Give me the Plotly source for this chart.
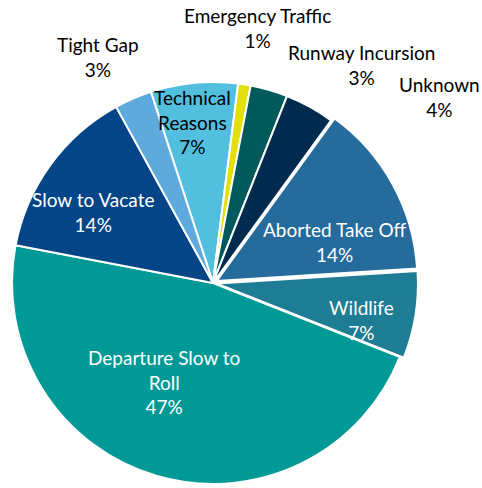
import math
import plotly.graph_objects as go

# Share of delay causes (percent), clockwise from the top
categories = ["Technical<br>Reasons", "Emergency Traffic", "Runway Incursion", "Unknown",
              "Aborted Take Off", "Wildlife", "Departure Slow to<br>Roll",
              "Slow to Vacate", "Tight Gap"]
shares = [7, 1, 3, 4, 14, 7, 47, 14, 3]

# Styling per slice
colors = ["#52BFDE", "#E3DF0B", "#00595A", "#012A4F", "#256B9C",
          "#1E7C94", "#009996", "#034586", "#5EAADD"]
text_colors = ["black", "black", "black", "black", "white",
               "white", "white", "white", "black"]
pulls = [0, 0, 0, 0, 0.02, 0.02, 0, 0, 0]
# label placement: distance from centre (in radii) and angular nudge (deg)
label_radius = [0.807, 1.287, 1.311, 1.459, 0.639, 0.763, 0.55, 0.692, 1.261]
label_nudge = [-1.7, 0.8, 18.0, 21.9, 10.2, 4.8, 10.1, -5.3, -3.7]

W, H = 482, 488
rotation = -18
dom_x = [0.0166, 0.8672]
dom_y = [0.0, 0.8402]

fig = go.Figure(go.Pie(
    labels=categories,
    values=shares,
    sort=False,
    direction="clockwise",
    rotation=rotation,
    pull=pulls,
    marker=dict(colors=colors, line=dict(color="white", width=2)),
    textinfo="none",
    hovertemplate="%{label}: %{percent:.0%}<extra></extra>",
    domain=dict(x=dom_x, y=dom_y),
    automargin=False,
    showlegend=False,
))

# Pie geometry in pixels, as laid out by plotly (centred in its domain box)
box_w = (dom_x[1] - dom_x[0]) * W
box_h = (dom_y[1] - dom_y[0]) * H
radius = min(box_w, box_h) / (2 * (1 + max(pulls)))
cx = (dom_x[0] + dom_x[1]) / 2 * W
cy = (1 - (dom_y[0] + dom_y[1]) / 2) * H

total = sum(shares)
start = rotation
for name, val, tc, k, nudge in zip(categories, shares, text_colors,
                                   label_radius, label_nudge):
    mid = start + val / total * 180
    start += val / total * 360
    theta = math.radians(mid + nudge)
    px = cx + k * radius * math.sin(theta)
    py = cy - k * radius * math.cos(theta)
    fig.add_annotation(
        x=px / W, y=1 - py / H, xref="paper", yref="paper",
        text=f"{name}<br>{val / total:.0%}",
        showarrow=False, xanchor="center", yanchor="middle",
        font=dict(family="Lato", size=19, color=tc),
    )

fig.update_layout(
    width=W, height=H,
    margin=dict(l=0, r=0, t=0, b=0),
    paper_bgcolor="white",
)

fig.write_html("out.html")
